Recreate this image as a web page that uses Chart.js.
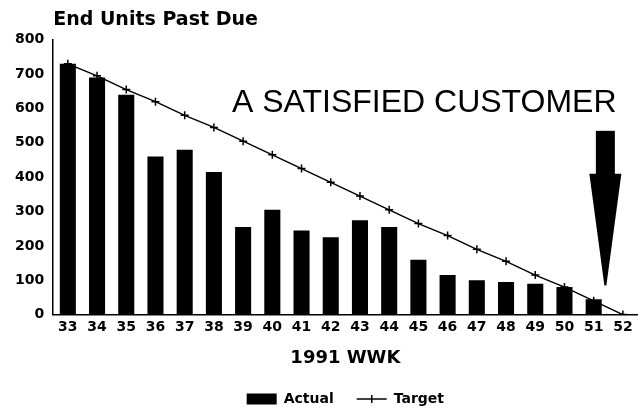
<!DOCTYPE html>
<html>
<head>
<meta charset="utf-8">
<script src="https://cdn.jsdelivr.net/npm/chart.js@4.4.1/dist/chart.umd.min.js"></script>
<style>
  html, body { margin: 0; padding: 0; background: #fff; }
  #wrap { width: 643px; height: 411px; position: relative; }
</style>
</head>
<body>
<div id="wrap"><canvas id="past-due"></canvas></div>
<script>
const weeks = ['33', '34', '35', '36', '37', '38', '39', '40', '41', '42', '43', '44', '45', '46', '47', '48', '49', '50', '51', '52'];
const actualUnits = [730, 690, 640, 460, 480, 415, 255, 305, 245, 225, 275, 255, 160, 115, 100, 95, 90, 80, 45, null];
const targetUnits = [730, 695, 655, 620, 580, 545, 505, 465, 425, 385, 345, 305, 265, 230, 190, 155, 115, 80, 40, 0];
const yTicks = [0, 100, 200, 300, 400, 500, 600, 700, 800];

const boldFont = 'DejaVu Sans';

// annotation: text + big arrow pointing at week 52 (positioned in scale units)
const noteText = 'A SATISFIED CUSTOMER';
const noteAt = { x: 12.2, y: 590 };
const arrowAt = { x: 18.4, top: 535, neck: 410, tip: 85 };

const annotate = {
  id: 'annotate',
  afterDatasetsDraw(chart) {
    const { ctx, scales: { x, y } } = chart;
    ctx.save();
    ctx.fillStyle = '#000';
    ctx.font = '32px "Liberation Sans", Arial, sans-serif';
    ctx.textAlign = 'center';
    ctx.textBaseline = 'alphabetic';
    ctx.fillText(noteText, x.getPixelForValue(noteAt.x), y.getPixelForValue(noteAt.y));

    const cx = x.getPixelForValue(arrowAt.x);
    const top = y.getPixelForValue(arrowAt.top);
    const neck = y.getPixelForValue(arrowAt.neck);
    const tip = y.getPixelForValue(arrowAt.tip);
    ctx.fillRect(cx - 9.5, top, 19, neck - top + 1);
    ctx.beginPath();
    ctx.moveTo(cx - 16, neck);
    ctx.lineTo(cx + 16, neck);
    ctx.lineTo(cx + 1, tip);
    ctx.lineTo(cx - 1, tip);
    ctx.closePath();
    ctx.fill();
    ctx.restore();
  },
  afterDraw(chart) {
    // little vertical stroke so the Target legend line reads as -+-
    const boxes = chart.legend && chart.legend.legendHitBoxes;
    if (!boxes || !boxes[1]) return;
    const b = boxes[1];
    const { ctx } = chart;
    ctx.save();
    ctx.strokeStyle = '#000';
    ctx.lineWidth = 1.5;
    ctx.beginPath();
    ctx.moveTo(b.left + 15, b.top + b.height / 2 - 4);
    ctx.lineTo(b.left + 15, b.top + b.height / 2 + 4);
    ctx.stroke();
    ctx.restore();
  }
};

new Chart(document.getElementById('past-due'), {
  type: 'bar',
  data: {
    labels: weeks,
    datasets: [
      {
        label: 'Actual',
        data: actualUnits,
        backgroundColor: '#000',
        borderWidth: 0,
        barPercentage: 0.55,
        categoryPercentage: 1,
        order: 2
      },
      {
        type: 'line',
        label: 'Target',
        data: targetUnits,
        borderColor: '#000',
        borderWidth: 1.5,
        backgroundColor: '#000',
        pointStyle: 'cross',
        pointRadius: 4,
        pointBorderWidth: 1.5,
        pointBorderColor: '#000',
        tension: 0,
        order: 1
      }
    ]
  },
  options: {
    responsive: true,
    maintainAspectRatio: false,
    animation: false,
    layout: {
      padding: { left: 6, right: 3, top: 0, bottom: -5 }
    },
    scales: {
      x: {
        offset: true,
        grid: { display: false, drawTicks: false },
        border: { display: true, color: '#000', width: 1.5 },
        ticks: {
          color: '#000',
          padding: 4,
          maxRotation: 0,
          autoSkip: false,
          font: { family: boldFont, size: 14, weight: 'bold' }
        },
        title: {
          display: true,
          text: '1991 WWK',
          color: '#000',
          padding: { top: 8, bottom: 0 },
          font: { family: boldFont, size: 18, weight: 'bold' }
        }
      },
      y: {
        min: 0,
        max: 800,
        afterBuildTicks(scale) {
          scale.ticks = yTicks.map(v => ({ value: v }));
        },
        grid: { display: false, drawTicks: false },
        border: { display: true, color: '#000', width: 1.5 },
        ticks: {
          color: '#000',
          padding: 9,
          font: { family: boldFont, size: 14, weight: 'bold' }
        }
      }
    },
    plugins: {
      title: {
        display: true,
        text: 'End Units Past Due',
        align: 'start',
        fullSize: false,
        color: '#000',
        padding: { top: 9, bottom: 8 },
        font: { family: boldFont, size: 19, weight: 'bold' }
      },
      legend: {
        display: true,
        position: 'bottom',
        fullSize: false,
        labels: {
          color: '#000',
          usePointStyle: true,
          pointStyleWidth: 30,
          boxHeight: 11,
          padding: 23,
          font: { family: boldFont, size: 14, weight: 'bold' },
          sort: (a, b) => a.datasetIndex - b.datasetIndex,
          generateLabels(chart) {
            const items = Chart.defaults.plugins.legend.labels.generateLabels(chart);
            items.forEach(item => {
              item.pointStyle = item.datasetIndex === 0 ? 'rect' : 'line';
              item.strokeStyle = '#000';
              item.fillStyle = '#000';
            });
            return items;
          }
        }
      },
      tooltip: { enabled: false }
    }
  },
  plugins: [annotate]
});
</script>
</body>
</html>
